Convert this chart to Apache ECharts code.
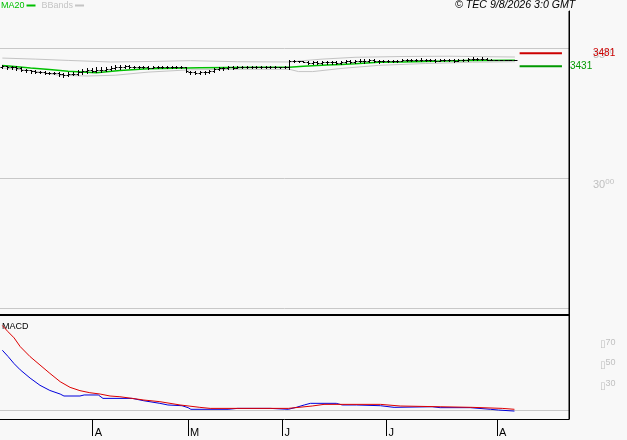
<!DOCTYPE html>
<html><head><meta charset="utf-8">
<script src="https://cdn.jsdelivr.net/npm/echarts@6/dist/echarts.min.js"></script>
<style>html,body{margin:0;padding:0;background:#f8f8f8}#c{width:627px;height:440px}</style>
</head><body><div id="c"></div><script>
const opens = [3428,3430,3426,3428,3424,3418,3415,3412,3410,3408,
 3406,3405,3404,3400,3398,3402,3400,3408,3412,3416,
 3414,3418,3417,3420,3424,3428,3426,3430,3429,3426,
 3428,3427,3425,3428,3426,3428,3427,3428,3426,3427,
 3410,3408,3405,3407,3410,3414,3420,3424,3422,3426,
 3425,3427,3426,3428,3427,3428,3426,3427,3428,3427,
 3426,3427,3452,3450,3449,3448,3444,3446,3443,3447,
 3445,3448,3444,3446,3449,3447,3450,3452,3449,3453,
 3451,3449,3451,3450,3452,3451,3454,3456,3453,3455,
 3456,3453,3455,3452,3454,3453,3455,3452,3454,3455,
 3458,3460,3457,3459,3456,3455,3454,3455,3454,3454];
const closes = [3430,3426,3428,3424,3418,3415,3412,3410,3408,3406,
 3405,3404,3400,3398,3402,3400,3408,3412,3416,3414,
 3418,3417,3420,3424,3428,3426,3430,3429,3426,3428,
 3427,3425,3428,3426,3428,3427,3428,3426,3427,3412,
 3408,3405,3407,3410,3414,3420,3424,3422,3426,3425,
 3427,3426,3428,3427,3428,3426,3427,3428,3427,3426,
 3427,3452,3450,3449,3448,3444,3446,3443,3447,3445,
 3448,3444,3446,3449,3447,3450,3452,3449,3453,3451,
 3449,3451,3450,3452,3451,3454,3456,3453,3455,3456,
 3453,3455,3452,3454,3453,3455,3452,3454,3455,3458,
 3460,3457,3459,3456,3455,3454,3455,3454,3454,3455];
const lows = [3422,3420,3419,3418,3412,3409,3406,3404,3403,3401,
 3400,3399,3392,3390,3394,3395,3398,3402,3405,3407,
 3408,3410,3411,3416,3420,3421,3422,3424,3422,3423,
 3422,3421,3422,3423,3424,3424,3424,3423,3423,3408,
 3402,3399,3400,3402,3405,3410,3417,3418,3419,3421,
 3422,3423,3423,3424,3425,3424,3424,3425,3425,3424,
 3424,3420,3446,3446,3445,3440,3439,3438,3440,3440,
 3441,3440,3440,3442,3442,3443,3445,3444,3446,3446,
 3444,3445,3446,3447,3447,3449,3450,3449,3450,3451,
 3449,3450,3448,3449,3449,3450,3448,3449,3450,3452,
 3454,3454,3455,3453,3454,3453,3453,3453,3453,3453];
const highs = [3434,3432,3431,3430,3426,3421,3418,3416,3414,3412,
 3410,3409,3408,3406,3407,3408,3415,3420,3424,3425,
 3426,3428,3428,3432,3435,3436,3436,3435,3432,3433,
 3431,3430,3432,3431,3431,3430,3431,3430,3430,3428,
 3414,3412,3411,3414,3418,3424,3428,3429,3430,3430,
 3430,3431,3431,3431,3432,3430,3430,3431,3430,3429,
 3430,3456,3455,3452,3451,3450,3450,3450,3451,3451,
 3452,3452,3450,3453,3453,3455,3458,3457,3458,3457,
 3455,3455,3454,3456,3455,3460,3460,3459,3459,3462,
 3459,3458,3458,3457,3457,3458,3458,3457,3459,3463,
 3465,3464,3466,3462,3457,3456,3456,3456,3455,3456];
const ma20 = [[0,3433],[2,3431],[6,3424],[10,3418],[14,3411],[20,3406],[25,3414],[31,3421],[42,3425],[55,3427],[61,3427],[64,3431],[69,3435],[72,3437],[75,3440],[80,3446],[85,3447],[92,3450],[99,3453],[109,3454]];
const bbUpper = [[0,3462],[7,3458],[14,3453],[23,3447],[32,3449],[40,3452],[50,3448],[61,3447],[64,3452],[68,3458],[75,3465],[85,3468],[95,3469],[109,3466]];
const bbLower = [[0,3424],[6,3414],[12,3396],[18,3393],[24,3396],[31,3408],[40,3417],[50,3419],[61,3419],[63,3410],[66,3410],[72,3422],[80,3434],[90,3441],[100,3446],[109,3448]];
const macdBlue = [[0,0.58],[1.2,0.52],[2.5,0.45],[3.8,0.39],[5.9,0.31],[8,0.24],[10.1,0.19],[12.3,0.155],[13.1,0.136],[16.5,0.136],[17.4,0.146],[20.4,0.146],[21.4,0.113],[27.6,0.113],[30.1,0.09],[33.5,0.065],[35.2,0.049],[38.2,0.042],[39.5,0.023],[40.1,0.007],[48,0.007],[50,0.016],[57,0.016],[57.4,0.007],[60.8,0.007],[62.5,0.026],[64.2,0.049],[65.5,0.065],[71,0.065],[72.3,0.049],[75.3,0.049],[80.4,0.042],[83.3,0.026],[91.4,0.032],[93.1,0.023],[99.5,0.023],[103.8,0.007],[105.5,0],[108.9,-0.01]];
const macdRed = [[0,0.82],[1.2,0.76],[2.5,0.70],[3.8,0.615],[5.9,0.518],[8,0.437],[10.1,0.356],[12.3,0.275],[14.4,0.22],[16.5,0.188],[18.6,0.168],[20.8,0.155],[22.9,0.136],[25,0.129],[27.6,0.113],[30.1,0.097],[33.5,0.081],[37.8,0.049],[42,0.026],[44.2,0.016],[60.8,0.016],[65.9,0.039],[68.4,0.055],[80.4,0.055],[84.6,0.039],[93.1,0.032],[99.9,0.026],[106.3,0.016],[108.9,0.007]];
const lastPrice = 3481, lastMA = 3431;
const markerSpan = [110, 119];
const monthTicks = [19.2, 39.5, 59.6, 81.7, 105.2];
const monthLabels = ['A','M','J','J','A'];
const priceGrid = [2500, 3000, 3500];
const priceLabels = [3000, 3500];
const macdGrid = [0];
const macdLabels = [0.3, 0.5, 0.7];
const frameSpan = [0, 1];
const xMin = -0.5, xMax = 120.5;

const FONT = 'Liberation Sans, Arial, sans-serif';
const ohlc = opens.map((o, i) => [i, o, closes[i], lows[i], highs[i]]);
const chart = echarts.init(document.getElementById('c'), null, {renderer: 'canvas'});
const xBase = {type: 'value', min: xMin, max: xMax, splitLine: {show: false}};
chart.setOption({
  animation: false,
  backgroundColor: '#f8f8f8',
  textStyle: {fontFamily: FONT},
  title: {text: '© TEC 9/8/2026 3:0 GMT', left: 455, top: 0, padding: 0,
    textStyle: {fontSize: 10.6, fontStyle: 'italic', fontWeight: 'normal', color: '#000', fontFamily: FONT}},
  legend: {left: 0, top: 0, padding: [1, 0, 0, 1], itemGap: 6, align: 'right', itemWidth: 9, itemHeight: 2, icon: 'rect',
    data: [{name: 'MA20', textStyle: {color: '#00c000'}}, {name: 'BBands', textStyle: {color: '#c4c4c4'}}],
    textStyle: {fontSize: 9, fontFamily: FONT, padding: [0, -3, 0, 0]}},
  grid: [
    {left: 0, right: 58, top: 11, bottom: 125},
    {left: 0, right: 58, top: 315, bottom: 21},
    {left: 0, right: 58, top: 11, bottom: 21}
  ],
  xAxis: [
    Object.assign({}, xBase, {gridIndex: 0, axisLine: {show: true, onZero: false, lineStyle: {color: '#000', width: 2}},
      axisTick: {show: false}, axisLabel: {show: false}}),
    Object.assign({}, xBase, {gridIndex: 1, axisLine: {show: true, onZero: false, lineStyle: {color: '#000', width: 1}},
      axisTick: {show: true, customValues: monthTicks, length: 17, lineStyle: {color: '#000'}},
      axisLabel: {show: true, customValues: monthTicks, margin: 8, align: 'left', padding: [0, 0, 0, 2], verticalAlign: 'top',
        fontSize: 11, color: '#000', fontFamily: FONT,
        formatter: v => monthLabels[monthTicks.indexOf(v)]}}),
    Object.assign({}, xBase, {gridIndex: 2, axisLine: {show: false}, axisTick: {show: false}, axisLabel: {show: false}})
  ],
  yAxis: [
    {type: 'value', gridIndex: 0, position: 'right', min: 2474, max: 3643,
      axisLine: {show: false},
      axisTick: {show: false, customValues: priceGrid},
      splitLine: {show: true, lineStyle: {color: '#c8c8c8', width: 1}},
      axisLabel: {customValues: priceLabels, margin: 24, verticalAlign: 'top', color: '#c0c0c0', hideOverlap: false,
        formatter: v => '{a|' + String(v).slice(0, 2) + '}{b|' + String(v).slice(2) + '}',
        rich: {a: {fontSize: 11, color: '#c0c0c0', fontFamily: FONT, lineHeight: 12, verticalAlign: 'bottom'},
               b: {fontSize: 8, color: '#c0c0c0', fontFamily: FONT, lineHeight: 12, verticalAlign: 'top'}}}},
    {type: 'value', gridIndex: 1, position: 'right', min: -0.087, max: 0.922,
      axisLine: {show: false},
      axisTick: {show: false, customValues: macdGrid},
      splitLine: {show: true, lineStyle: {color: '#c8c8c8', width: 1}},
      axisLabel: {customValues: macdLabels, margin: 31, verticalAlign: 'top', color: '#c0c0c0',
        formatter: v => '{a|▯}{b|' + Math.round(v * 100) + '}',
        rich: {a: {fontSize: 10, color: '#c0c0c0', fontFamily: 'DejaVu Sans', lineHeight: 12, verticalAlign: 'bottom'},
               b: {fontSize: 9, color: '#c0c0c0', fontFamily: FONT, lineHeight: 12, verticalAlign: 'top'}}}},
    {type: 'value', gridIndex: 2, position: 'right', min: frameSpan[0], max: frameSpan[1],
      axisLine: {show: true, onZero: false, lineStyle: {color: '#000', width: 1}},
      axisTick: {show: false}, axisLabel: {show: false}, splitLine: {show: false}}
  ],
  series: [
    {name: 'BBands', type: 'line', xAxisIndex: 0, yAxisIndex: 0, data: bbUpper, symbol: 'none', color: '#c4c4c4',
      lineStyle: {color: '#c4c4c4', width: 1}, z: 1},
    {name: 'BBands', type: 'line', xAxisIndex: 0, yAxisIndex: 0, data: bbLower, symbol: 'none', color: '#c4c4c4',
      lineStyle: {color: '#c4c4c4', width: 1}, z: 1},
    {name: 'MA20', type: 'line', xAxisIndex: 0, yAxisIndex: 0, data: ma20, symbol: 'none', color: '#00c000',
      lineStyle: {color: '#00c000', width: 1.5}, z: 2},
    {name: 'Price', type: 'custom', xAxisIndex: 0, yAxisIndex: 0, data: ohlc, z: 3,
      renderItem: (params, api) => {
        const x = api.value(0);
        const o = api.coord([x, api.value(1)]), c = api.coord([x, api.value(2)]);
        const l = api.coord([x, api.value(3)]), h = api.coord([x, api.value(4)]);
        const px = Math.round(o[0]) + 0.5;
        const st = {stroke: '#000', lineWidth: 1};
        return {type: 'group', children: [
          {type: 'line', shape: {x1: px, y1: Math.round(h[1]), x2: px, y2: Math.round(l[1]) + 1}, style: st},
          {type: 'line', shape: {x1: px - 2, y1: Math.round(o[1]) + 0.5, x2: px, y2: Math.round(o[1]) + 0.5}, style: st},
          {type: 'line', shape: {x1: px, y1: Math.round(c[1]) + 0.5, x2: px + 2, y2: Math.round(c[1]) + 0.5}, style: st}
        ]};
      }},
    {name: 'last', type: 'line', xAxisIndex: 0, yAxisIndex: 0, symbol: 'none',
      data: markerSpan.map(i => [i, lastPrice]), lineStyle: {color: '#cc0000', width: 2}, z: 4,
      endLabel: {show: true, distance: 31, formatter: p => String(p.value[1]), color: '#cc0000', fontSize: 10, fontFamily: FONT}},
    {name: 'lastMA', type: 'line', xAxisIndex: 0, yAxisIndex: 0, symbol: 'none',
      data: markerSpan.map(i => [i, lastMA]), lineStyle: {color: '#009900', width: 2}, z: 4,
      endLabel: {show: true, distance: 8, formatter: p => String(p.value[1]), color: '#009900', fontSize: 10, fontFamily: FONT}},
    {name: 'MACD', type: 'line', xAxisIndex: 1, yAxisIndex: 1, data: macdBlue, symbol: 'none',
      lineStyle: {color: '#0000dd', width: 1}, z: 2},
    {name: 'Signal', type: 'line', xAxisIndex: 1, yAxisIndex: 1, data: macdRed, symbol: 'none',
      lineStyle: {color: '#dd0000', width: 1}, z: 3},
    {name: 'frame', type: 'line', xAxisIndex: 2, yAxisIndex: 2, symbol: 'none', silent: true, clip: false,
      data: frameSpan.map(v => [xMax, v]), lineStyle: {color: '#000', width: 1}, z: 5}
  ],
  graphic: [{type: 'text', left: 2, top: 322, style: {text: 'MACD', fontSize: 9, fill: '#000', fontFamily: FONT}}]
});
</script></body></html>
